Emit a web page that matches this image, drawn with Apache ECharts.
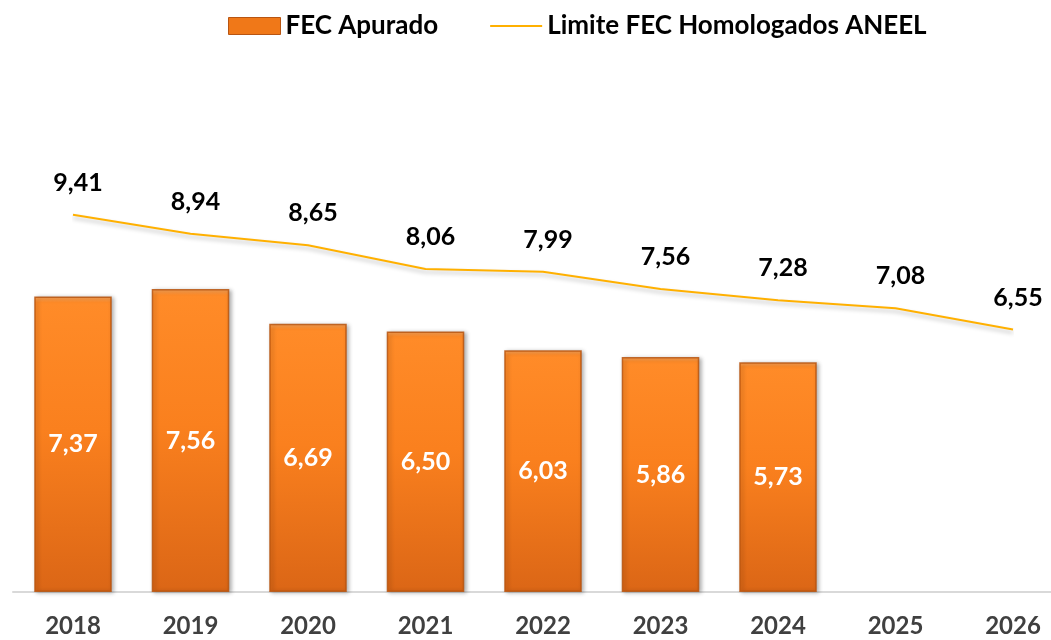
<!DOCTYPE html>
<html><head><meta charset="utf-8">
<script src="https://cdn.jsdelivr.net/npm/echarts@6/dist/echarts.min.js"></script>
<style>html,body{margin:0;padding:0;background:#fff}#c{width:1051px;height:640px}</style>
</head><body><div id="c"></div>
<script>
const years = ['2018','2019','2020','2021','2022','2023','2024','2025','2026'];
const fecApurado = [7.37, 7.56, 6.69, 6.50, 6.03, 5.86, 5.73, null, null];
const limiteFec = [9.41, 8.94, 8.65, 8.06, 7.99, 7.56, 7.28, 7.08, 6.55];
const barName = 'FEC Apurado';
const lineName = 'Limite FEC Homologados ANEEL';
const fmt = v => v.toFixed(2).replace('.', ',');
const FONT = 'Lato, "Open Sans", sans-serif';

const barFill = new echarts.graphic.LinearGradient(0, 0, 0, 1, [
  {offset: 0, color: '#FBA55A'},
  {offset: 0.02, color: '#FF8B28'},
  {offset: 0.45, color: '#FA801E'},
  {offset: 1, color: '#DB6616'}
]);

const chart = echarts.init(document.getElementById('c'), null, {renderer: 'canvas'});
chart.setOption({
  animation: false,
  backgroundColor: '#fff',
  legend: {
    top: 8, left: 223, itemGap: 52,
    itemWidth: 52, itemHeight: 17,
    textStyle: {fontFamily: FONT, fontSize: 26, fontWeight: 'bold', color: '#000'},
    data: [
      {name: barName, icon: 'rect', itemStyle: {color: '#F07818', borderColor: '#B85512', borderWidth: 1}},
      {name: lineName, icon: 'path://M0,0H52V2H0Z', itemStyle: {color: '#FFB000', borderWidth: 0}}
    ]
  },
  grid: [
    {left: 73, right: 38, top: 111, height: 481},
    {left: 13, right: 0, top: 111, height: 481}
  ],
  xAxis: [
    {
      type: 'category', data: years, gridIndex: 0, boundaryGap: false,
      axisTick: {show: false},
      axisLine: {show: false},
      axisLabel: {fontFamily: FONT, fontSize: 24, fontWeight: 'bold', color: '#404040', margin: 22}
    },
    {
      type: 'category', data: [], gridIndex: 1,
      axisTick: {show: false}, axisLabel: {show: false},
      axisLine: {lineStyle: {color: '#d9d9d9', width: 2}}
    }
  ],
  yAxis: [
    {type: 'value', min: 0, max: 12, show: false, splitLine: {show: false}, gridIndex: 0},
    {type: 'value', min: 0, max: 12, show: false, splitLine: {show: false}, gridIndex: 1}
  ],
  series: [
    {
      name: barName, type: 'bar', data: fecApurado, barWidth: '66%', clip: false, z: 3,
      itemStyle: {
        color: barFill,
        borderColor: 'rgba(185,85,15,0.85)', borderWidth: 1.5,
        shadowBlur: 4, shadowColor: 'rgba(0,0,0,0.3)', shadowOffsetX: 2, shadowOffsetY: 1
      },
      label: {show: true, position: 'inside', formatter: p => fmt(p.value),
        fontFamily: FONT, fontSize: 25, fontWeight: 'bold', color: '#fff'}
    },
    {
      name: lineName, type: 'line', data: limiteFec, symbol: 'circle', symbolSize: 1, showSymbol: true, clip: false, z: 4,
      lineStyle: {color: '#FFB000', width: 2, shadowBlur: 4, shadowColor: 'rgba(0,0,0,0.25)', shadowOffsetY: 3},
      itemStyle: {color: 'rgba(0,0,0,0)'},
      label: {show: true, position: 'top', distance: 19, offset: [5, 0], formatter: p => fmt(p.value),
        fontFamily: FONT, fontSize: 25, fontWeight: 'bold', color: '#000'}
    }
  ]
});
</script></body></html>
